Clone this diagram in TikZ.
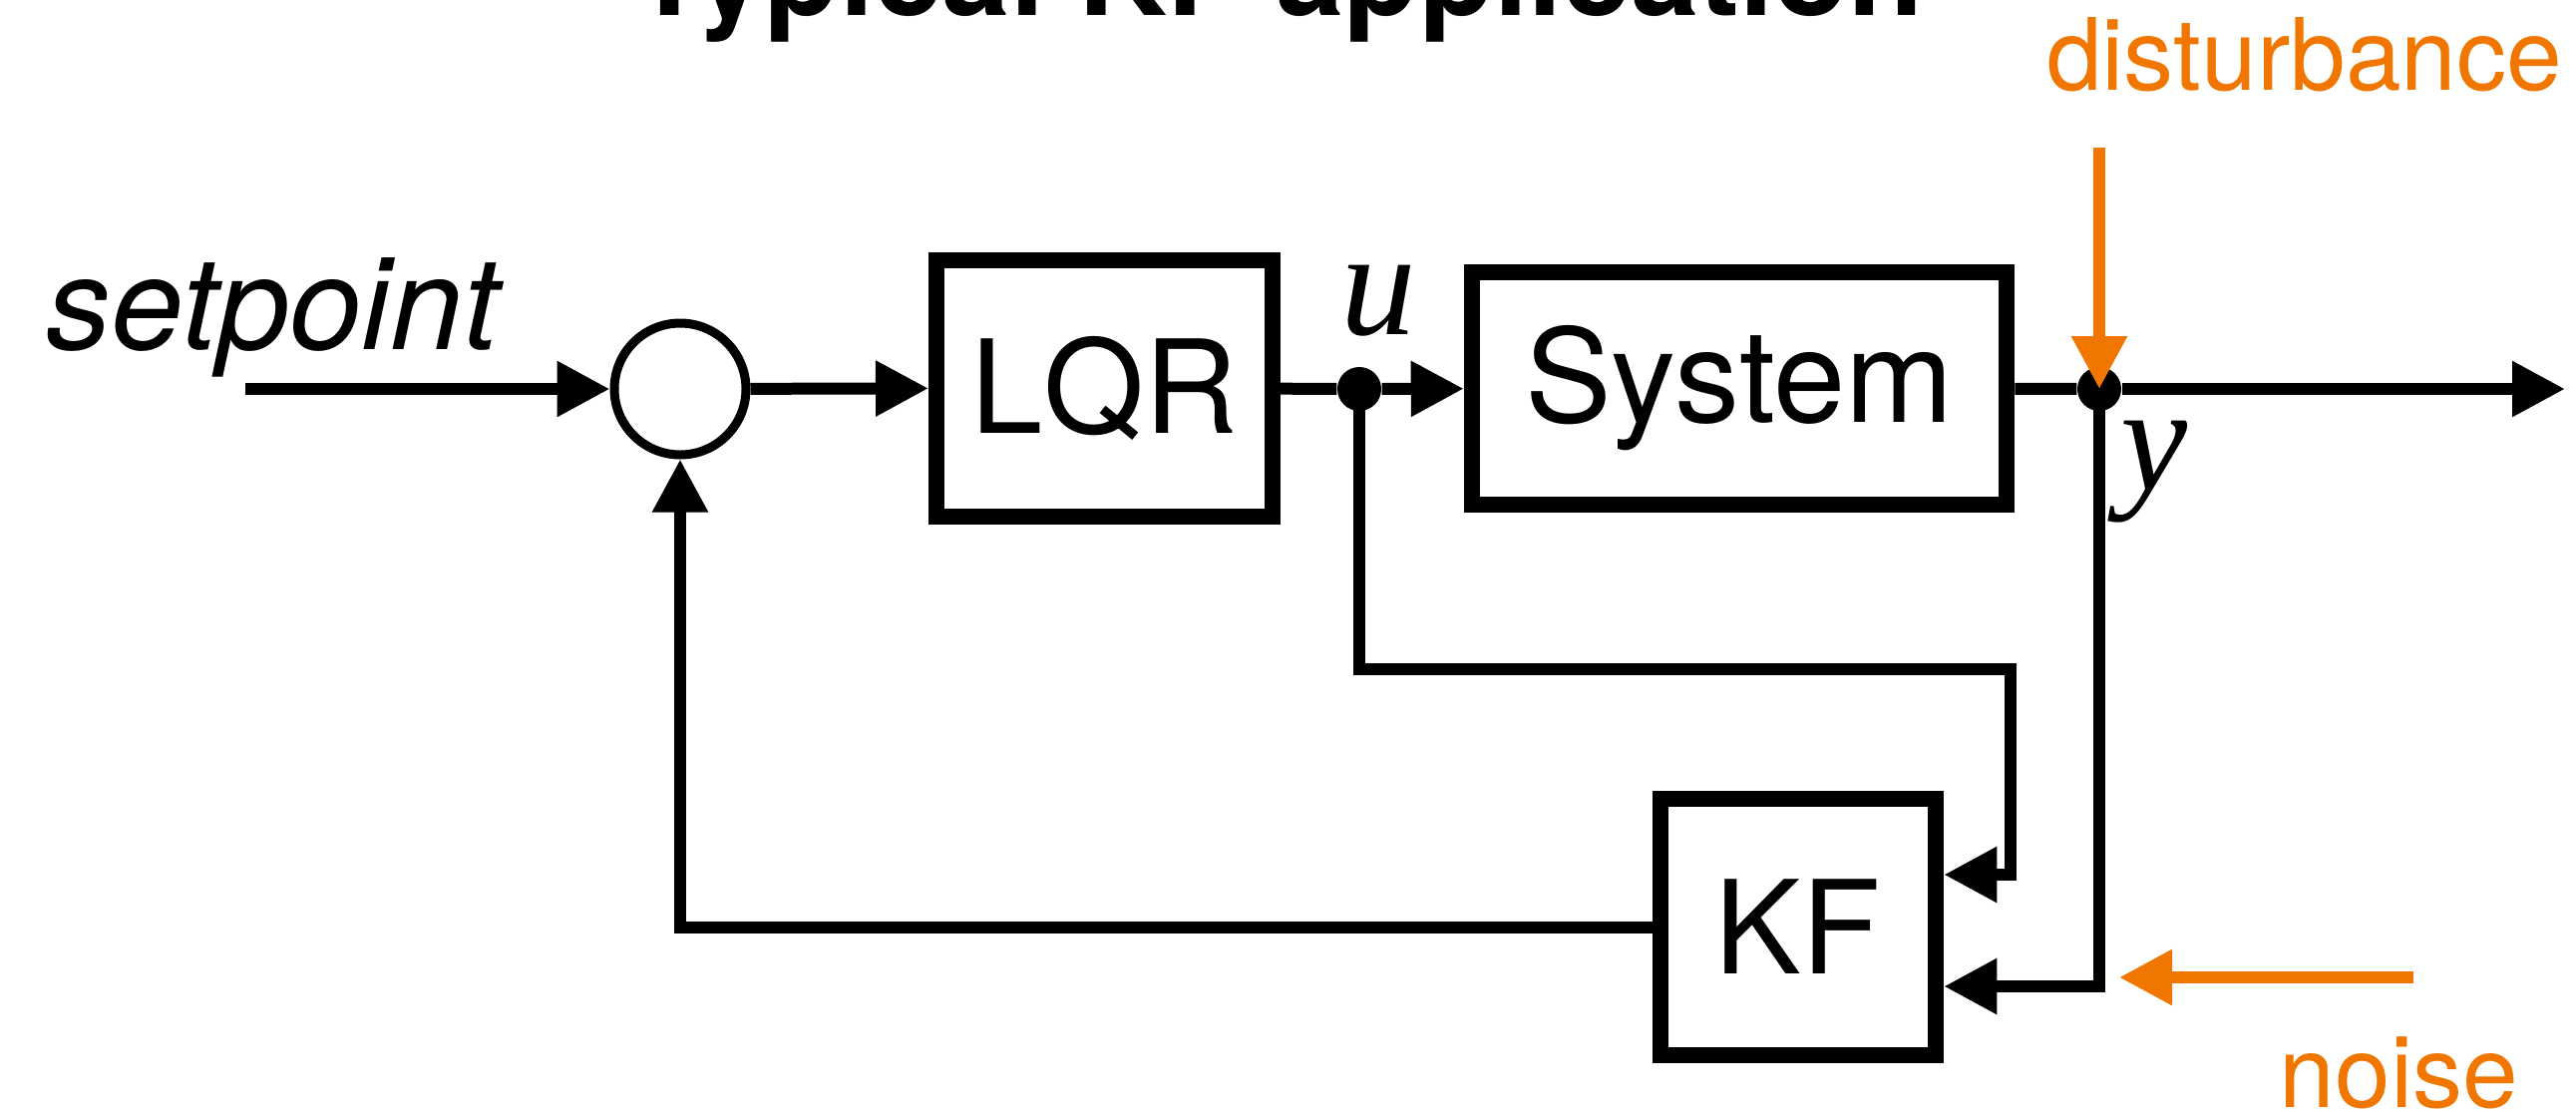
\documentclass[tikz,border=0pt]{standalone}
\usepackage{fontspec}
\setmainfont{TeX Gyre Heros}
\newfontfamily\timesfont{Liberation Serif}
\usetikzlibrary{positioning, arrows.meta}
\definecolor{distorange}{RGB}{240,118,0}

\begin{document}
\begin{tikzpicture}[
    font=\fontsize{37}{44}\selectfont,
    block/.style={draw=black, line width=0.16cm, inner sep=0pt, align=center},
    sumnode/.style={draw=black, circle, line width=0.09cm, minimum size=1.32cm, inner sep=0pt},
    dot/.style={fill=black, circle, minimum size=0.44cm, inner sep=0pt},
    signal/.style={font=\timesfont\itshape\fontsize{43}{50}\selectfont, inner sep=0pt},
    outside/.style={font=\fontsize{28.5}{34}\selectfont, text=distorange, inner sep=0pt},
    wire/.style={line width=0.12cm},
    arrow/.style={-{Triangle[length=0.53cm, width=0.53cm]}, line width=0.12cm}
]
\useasboundingbox (0,0) rectangle (25.83,-11.19);

% Title
\node[anchor=base, inner sep=0pt, font=\bfseries\fontsize{35}{42}\selectfont] (title) at (12.81,-0.15) {Typical KF application};

%%%%%%%%%%%%%%%%%%%%%
% Forward path
%%%%%%%%%%%%%%%%%%%%%
\node[anchor=base west, inner sep=0pt, font=\itshape\fontsize{37}{44}\selectfont] (setpointlabel) at (0.46,-3.50) {setpoint};
\coordinate (spin) at (2.46,-3.9);

\node[sumnode] (sum) at (6.82,-3.9) {};
\node[block, minimum width=3.37cm, minimum height=2.57cm] (lqr) at (11.075,-3.89) {LQR};
\node[dot] (udot) at (13.63,-3.9) {};
\node[block, minimum width=5.365cm, minimum height=2.33cm] (sys) at (17.44,-3.89) {System};
\node[dot] (ydot) at (21.05,-3.9) {};
\coordinate (out) at (25.72,-3.9);

\node[signal, anchor=base west] (ulabel) at (13.44,-3.35) {u};
\node[signal, anchor=base west] (ylabel) at (21.26,-4.91) {y};

\draw[arrow] (spin) -- (sum);
\draw[arrow] (sum) -- (lqr);
\draw[wire] (lqr) -- (udot);
\draw[arrow] (udot) -- (sys);
\draw[wire] (sys) -- (ydot);
\draw[arrow] (ydot) -- (out);

%%%%%%%%%%%%%%%%%%%%%
% Estimator loop
%%%%%%%%%%%%%%%%%%%%%
\node[block, minimum width=2.765cm, minimum height=2.57cm] (kf) at (18.03,-9.295) {KF};
\coordinate (ubend) at (13.63,-6.71);
\coordinate (ucorner) at (20.16,-6.71);

\draw[arrow] (udot.center) -- (ubend) -- (ucorner) |- ([yshift=0.525cm]kf.east);
\draw[arrow] (ydot.center) |- ([yshift=-0.595cm]kf.east);
\draw[arrow] (kf.west) -| (sum.south);

%%%%%%%%%%%%%%%%%%%%%
% Disturbance and noise
%%%%%%%%%%%%%%%%%%%%%
\node[outside, anchor=base east] (distlabel) at (25.70,-0.90) {disturbance};
\coordinate (diststart) at (21.05,-1.48);
\draw[arrow, distorange] (diststart) -- (ydot.center);

\node[outside, anchor=base west] (noiselabel) at (22.85,-11.10) {noise};
\coordinate (noisestart) at (24.20,-9.80);
\coordinate (noiseend) at (21.25,-9.80);
\draw[arrow, distorange] (noisestart) -- (noiseend);

\end{tikzpicture}
\end{document}
